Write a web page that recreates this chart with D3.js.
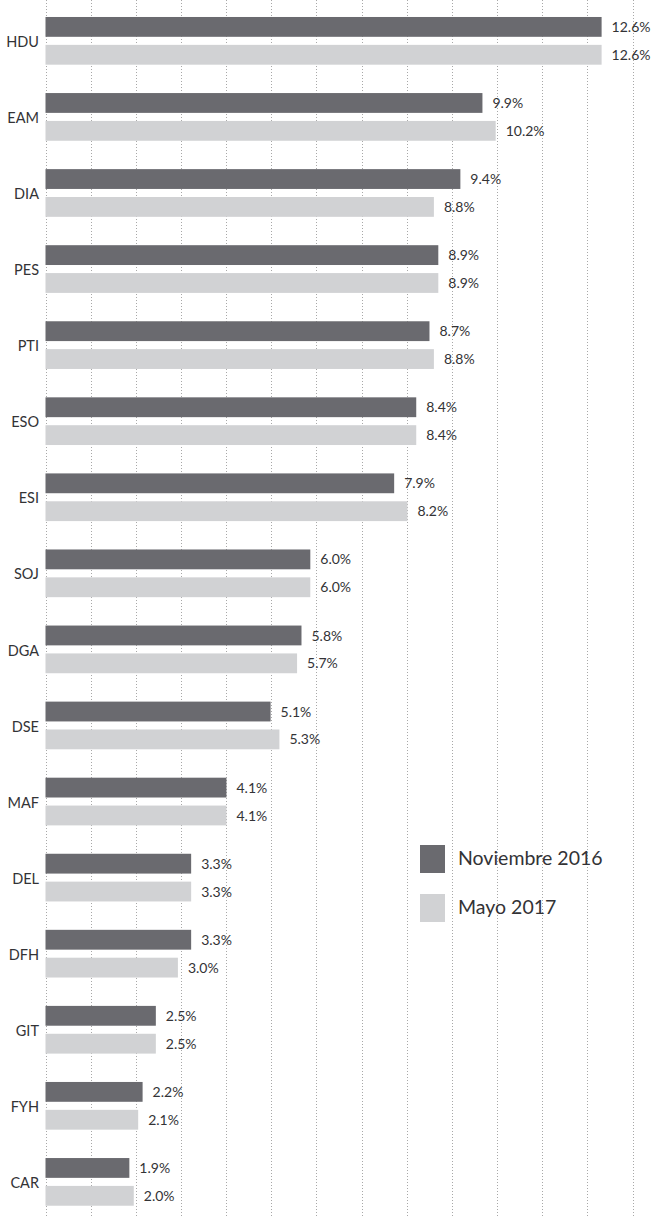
<!DOCTYPE html>
<html>
<head>
<meta charset="utf-8">
<script src="https://cdn.jsdelivr.net/npm/d3@7"></script>
<style>
  html, body { margin: 0; padding: 0; background: #ffffff; }
  svg { display: block; }
  text { font-family: Lato, "Open Sans", sans-serif; fill: #333336; }
</style>
</head>
<body>
<div id="chart"></div>
<script>
const categories = ["HDU","EAM","DIA","PES","PTI","ESO","ESI","SOJ","DGA","DSE","MAF","DEL","DFH","GIT","FYH","CAR"];
const seriesNames = ["Noviembre 2016","Mayo 2017"];
const nov2016 = [12.6, 9.9, 9.4, 8.9, 8.7, 8.4, 7.9, 6.0, 5.8, 5.1, 4.1, 3.3, 3.3, 2.5, 2.2, 1.9];
const may2017 = [12.6, 10.2, 8.8, 8.9, 8.8, 8.4, 8.2, 6.0, 5.7, 5.3, 4.1, 3.3, 3.0, 2.5, 2.1, 2.0];
const gridValues = [0,1,2,3,4,5,6,7,8,9,10,11,12,13];

const W = 654, H = 1217;
const colors = ["#6a6a6f", "#d1d2d4"];

const svg = d3.select("#chart").append("svg").attr("width", W).attr("height", H);

const x = d3.scaleLinear().domain([0, 13.3]).range([45.5, 632.5]);
const gx = d3.scaleLinear().domain([0, 13]).range([45.5, 632.5]);

const y = d3.scaleBand().domain(categories).range([2.8, 2.8 + 16 * 76.07])
  .paddingInner(0.373).paddingOuter(0.1865);
const ySub = d3.scaleBand().domain([0, 1]).range([0, y.bandwidth()]).paddingInner(0.289);

// grid
svg.append("g").selectAll("line").data(gridValues).join("line")
  .attr("x1", d => Math.round(gx(d)) + 0.5).attr("x2", d => Math.round(gx(d)) + 0.5)
  .attr("y1", 0).attr("y2", H)
  .attr("stroke", "#a8a8a8").attr("stroke-width", 1)
  .attr("stroke-dasharray", "1,2");

const rows = categories.map((c, i) => ({ cat: c, vals: [nov2016[i], may2017[i]] }));

const g = svg.append("g").selectAll("g").data(rows).join("g")
  .attr("transform", d => `translate(0,${y(d.cat)})`);

g.selectAll("rect").data(d => d.vals.map((v, k) => ({ v, k }))).join("rect")
  .attr("x", x(0))
  .attr("y", d => ySub(d.k))
  .attr("width", d => x(d.v) - x(0))
  .attr("height", ySub.bandwidth())
  .attr("fill", d => colors[d.k]);

g.selectAll("text.val").data(d => d.vals.map((v, k) => ({ v, k }))).join("text")
  .attr("class", "val")
  .attr("x", d => x(d.v) + 10)
  .attr("y", d => ySub(d.k) + ySub.bandwidth() / 2 + 1.5)
  .attr("dominant-baseline", "middle")
  .attr("font-size", 14)
  .text(d => d.v.toFixed(1) + "%");

g.append("text")
  .attr("x", 39)
  .attr("y", y.bandwidth() / 2 + 2.5)
  .attr("text-anchor", "end")
  .attr("dominant-baseline", "middle")
  .attr("font-size", 14.5)
  .text(d => d.cat);

// legend
const lg = svg.append("g").selectAll("g").data(seriesNames).join("g")
  .attr("transform", (d, i) => `translate(420,${845 + i * 49})`);
lg.append("rect").attr("width", 25).attr("height", 28).attr("fill", (d, i) => colors[i]);
lg.append("text").attr("x", 38).attr("y", 15.5).attr("dominant-baseline", "middle")
  .attr("font-size", 19.5).text(d => d);
</script>
</body>
</html>
